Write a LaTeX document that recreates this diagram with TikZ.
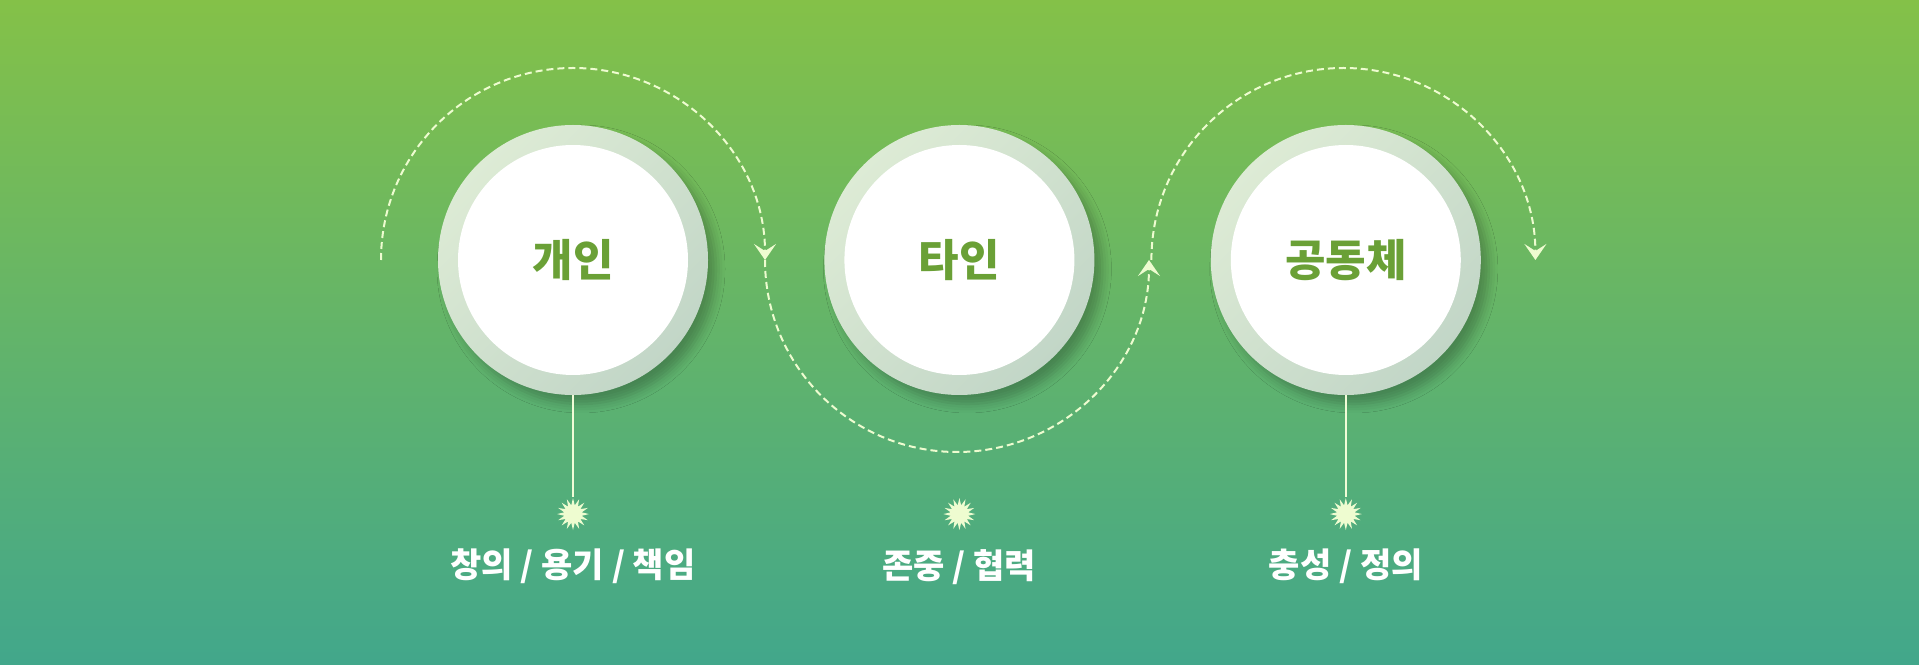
\documentclass[tikz,border=0pt]{standalone}
\usepackage{fontspec}
\newfontfamily\kr{Noto Sans CJK KR}
\usetikzlibrary{arrows.meta,positioning,shapes.geometric,calc,shadows.blur}
\definecolor{bgtop}{RGB}{132,193,72}
\definecolor{bgmid}{RGB}{98,178,104}
\definecolor{bgbot}{RGB}{66,167,139}
\definecolor{ringlight}{RGB}{221,235,213}
\definecolor{ringdark}{RGB}{194,214,199}
\definecolor{leafgreen}{RGB}{106,160,54}
\definecolor{sparkle}{RGB}{238,252,208}

\begin{document}
\begin{tikzpicture}[x=1pt,y=1pt,>={Stealth[length=16pt,width=22pt,inset=7pt]}]
\tikzstyle{ring}=[circle,minimum size=270pt,inner sep=0pt,top color=ringlight,bottom color=ringdark,shading angle=45,
  blur shadow={shadow xshift=8pt,shadow yshift=-9pt,shadow blur radius=9pt,shadow opacity=25}]
\tikzstyle{core}=[circle,fill=white,minimum size=230pt,inner sep=0pt,text=leafgreen,font=\kr\bfseries\fontsize{44}{52}\selectfont]
\tikzstyle{spark}=[star,star points=16,star point ratio=1.8,minimum size=32pt,inner sep=0pt,fill=sparkle]
\tikzstyle{tag}=[inner sep=0pt,text=white,font=\kr\bfseries\fontsize{34}{40}\selectfont]
\tikzstyle{flow}=[draw=sparkle,line width=2pt,dash pattern=on 7pt off 4pt]
\tikzstyle{stem}=[draw=sparkle!85!white,line width=1.5pt]
\useasboundingbox (0,0) rectangle (1919,664);
\shade[top color=bgtop,middle color=bgmid,bottom color=bgbot] (0,0) rectangle (1919,664);
% the three circles
\node[ring] (r1) at (573,404) {};
\node[ring,right=116pt of r1] (r2) {};
\node[ring,right=116pt of r2] (r3) {};
\node[core] (indiv) at (r1) {개인};
\node[core] (other) at (r2) {타인};
\node[core] (commun) at (r3) {공동체};
% sparkles and values
\node[spark,below=102pt of r1] (s1) {};
\node[spark,below=102pt of r2] (s2) {};
\node[spark,below=102pt of r3] (s3) {};
\node[tag,below=18pt of s1] (t1) {창의 / 용기 / 책임};
\node[tag,below=18pt of s2] (t2) {존중 / 협력};
\node[tag,below=18pt of s3] (t3) {충성 / 정의};
\draw[stem] (r1)--(s1);
\draw[stem] (r3)--(s3);
% dashed S path
\coordinate (f0) at ($(r1.center)+(-192,0)$);
\coordinate (f1) at ($(r1.center)+(192,0)$);
\coordinate (f2) at ($(r2.center)+(192,0)$);
\draw[flow,->] (f0) arc[start angle=180,end angle=0,radius=192];
\draw[flow,->] (f1) arc[start angle=180,end angle=360,radius=192];
\draw[flow,->] (f2) arc[start angle=180,end angle=0,radius=192];
\end{tikzpicture}
\end{document}
